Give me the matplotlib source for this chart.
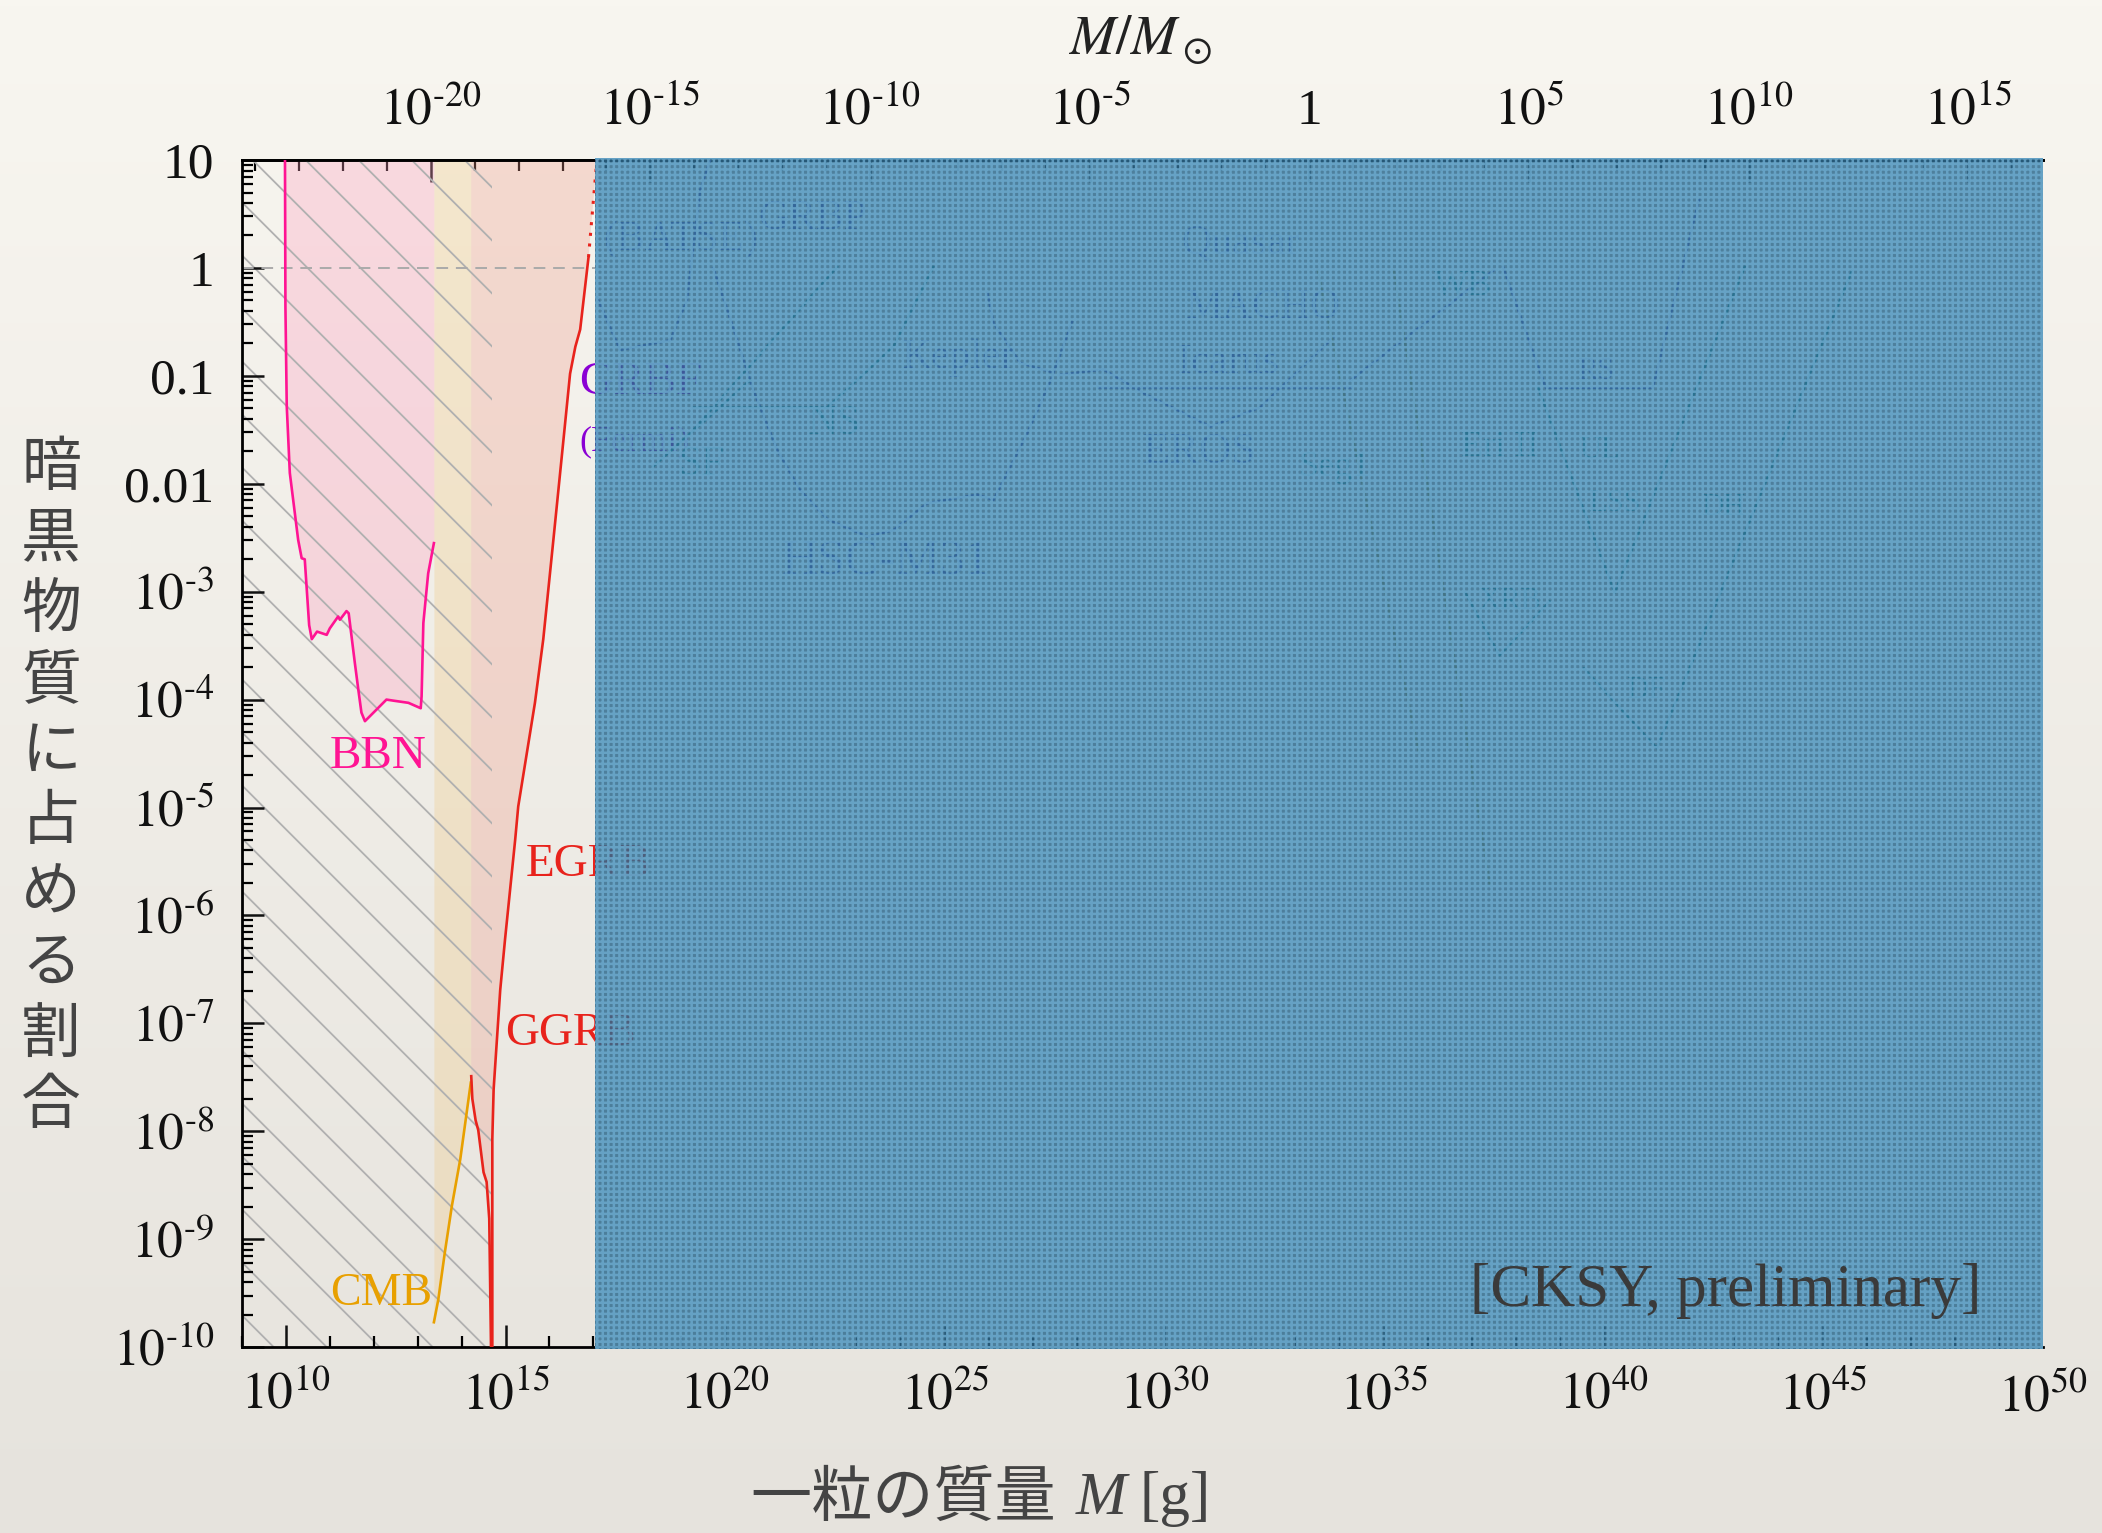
import numpy as np
import matplotlib.pyplot as plt
from matplotlib.patches import Rectangle
from matplotlib.ticker import FixedLocator, FuncFormatter, LogLocator, NullFormatter

plt.rcParams['font.family'] = ['Liberation Serif', 'Noto Sans CJK JP', 'DejaVu Sans']
plt.rcParams['mathtext.fontset'] = 'stix'
plt.rcParams['hatch.linewidth'] = 1.8

MSUN = 1.989e33

# --- visible constraints (log10 M[g], log10 f) ---
bbn_lx = [9.98, 9.99, 10.02, 10.09, 10.28, 10.36, 10.43, 10.53, 10.59, 10.71, 10.93, 11.00,
          11.19, 11.23, 11.38, 11.43, 11.57, 11.65, 11.72, 11.80, 12.07, 12.29, 12.45, 12.79,
          13.07, 13.09, 13.13, 13.24, 13.37]
bbn_ly = [1.0, -0.36, -1.28, -1.90, -2.52, -2.69, -2.70, -3.31, -3.44, -3.37, -3.40, -3.34,
          -3.23, -3.26, -3.18, -3.20, -3.66, -3.91, -4.12, -4.20, -4.09, -4.00, -4.01, -4.03,
          -4.08, -3.97, -3.29, -2.83, -2.55]

cmb_lx = [13.37, 13.47, 13.62, 13.78, 13.97, 14.21]
cmb_ly = [-9.77, -9.56, -9.12, -8.69, -8.26, -7.55]

ggrb_lx = [14.22, 14.245, 14.32, 14.38, 14.50, 14.57, 14.63, 14.67]
ggrb_ly = [-7.49, -7.70, -7.90, -7.99, -8.38, -8.47, -8.81, -10.0]

egrb_lx = [14.70, 14.70, 14.73, 14.79, 14.88, 14.99, 15.22, 15.29, 15.67, 15.86, 16.09,
           16.32, 16.47, 16.59, 16.70, 16.89]
egrb_ly = [-10.0, -8.07, -7.61, -7.24, -6.69, -6.22, -5.30, -4.99, -4.03, -3.44, -2.52,
           -1.59, -0.98, -0.73, -0.57, 0.10]
egrb_dot_lx = [16.89, 17.08]
egrb_dot_ly = [0.10, 1.0]

hatch_end = 14.69
cover_start = 17.04

# --- constraints hidden under the cover ---
hidden_curves = [
    ([19.73, 20.18, 20.64, 21.19, 21.71, 22.33, 23.24, 23.83, 24.60, 25.74, 26.11, 26.88, 27.41, 27.9],
     [0.0, -0.55, -1.13, -1.69, -2.06, -2.33, -2.49, -2.43, -2.18, -2.10, -2.15, -1.53, -1.04, -0.5], '#5b5bd6'),
    ([25.97, 26.11, 26.72, 27.47], [-0.23, -0.51, -0.88, -0.97], '#5b5bd6'),
    ([27.63, 28.61, 29.52, 31.05, 32.19, 33.85], [-0.99, -0.94, -1.16, -1.47, -1.29, -0.64], '#5b5bd6'),
    ([28.48, 34.24], [-1.10, -1.10], '#5b5bd6'),
    ([17.08, 17.61, 18.75, 19.13, 19.43, 19.66], [-0.27, -0.76, -0.67, -0.30, 0.72, 1.0], '#5b5bd6'),
    ([19.27, 22.33], [-1.29, -1.29], '#1f9e9e'),
    ([22.55, 19.28], [0.01, -1.5], '#1f9e9e'),
    ([24.74, 23.83, 22.33], [0.01, -0.73, -1.29], '#1f9e9e'),
    ([18.36, 20.57], [-1.84, -1.04], '#1f9e9e'),
    ([34.24, 37.5], [-1.04, -0.02], '#5b5bd6'),
    ([33.49, 35.8], [-0.02, -4.5], '#b8b060'),
    ([35.22, 37.4], [-0.02, -5.7], '#b8b060'),
    ([38.51, 40.25, 43.21], [-1.11, -3.01, 0.01], '#1f9e9e'),
    ([39.55, 41.21, 45.65], [-3.71, -4.45, -0.03], '#1f9e9e'),
    ([36.85, 37.63, 38.77], [-3.01, -3.59, -3.09], '#1f9e9e'),
    ([37.71, 38.68, 41.12, 42.17], [0.01, -1.11, -1.11, 0.63], '#5b5bd6'),
]
hidden_labels = [
    ('(BATSE)', 18.98, 0.26, '#5b5bd6', 30), ('GRBP', 21.98, 0.46, '#5b5bd6', 30),
    ('Kepler', 25.31, -0.83, '#5b5bd6', 30), ('NS', 22.49, -1.44, '#1f9e9e', 30),
    ('SF', 19.46, -1.82, '#1f9e9e', 30), ('HSC-M31', 23.65, -2.72, '#5b5bd6', 36),
    ('Quasar', 31.73, 0.23, '#5b5bd6', 30), ('MACHO', 32.26, -0.37, '#5b5bd6', 30),
    ('Icarus', 31.46, -0.88, '#5b5bd6', 30), ('EROS', 30.80, -1.71, '#5b5bd6', 32),
    ('Seg1', 33.88, -1.85, '#1f9e9e', 26), ('WB', 36.79, -0.17, '#1f9e9e', 26),
    ('Eri II', 37.63, -1.66, '#1f9e9e', 26), ('RS', 39.81, -0.96, '#5b5bd6', 22),
    ('UL', 39.9, -1.69, '#1f9e9e', 22), ('LSS', 40.25, -2.18, '#1f9e9e', 22),
    ('DH', 42.73, -2.22, '#1f9e9e', 22), ('DF', 40.95, -3.92, '#1f9e9e', 22),
    ('XRB', 37.85, -3.09, '#1f9e9e', 22),
]

xmajor = np.arange(10, 51, 5)
top_major = np.arange(-20, 16, 5)
ylabels = {1: '10', 0: '1', -1: '0.1', -2: '0.01'}


def p(a):
    return 10.0 ** np.asarray(a, dtype=float)


def pow_label(e):
    if e < 0:
        return r'$10^{\text{-}%d}$' % (-e)
    return '$10^{%d}$' % e


fig = plt.figure(figsize=(21.02, 15.33), dpi=100)

# paper-like background
bg = fig.add_axes([0, 0, 1, 1], zorder=-5)
grad = np.linspace(0, 1, 256)[:, None]
top_c = np.array([248, 246, 240]) / 255
bot_c = np.array([230, 227, 221]) / 255
img = top_c[None, None, :] * (1 - grad[..., None]) + bot_c[None, None, :] * grad[..., None]
bg.imshow(img, aspect='auto', extent=[0, 1, 0, 1])
bg.axis('off')

ax = fig.add_axes([0.1151, 0.1213, 0.8568, 0.7743], zorder=1)
ax.set_facecolor('none')
ax.set_xscale('log')
ax.set_yscale('log')
ax.set_xlim(1e9, 1e50)
ax.set_ylim(1e-10, 10)

# filled regions
ax.fill_between(p(bbn_lx), p(bbn_ly), 10, color='#ff9fc0', alpha=0.32, lw=0, zorder=1)
ax.fill_between(p(cmb_lx), p(cmb_ly), 10, color='#f0c880', alpha=0.3, lw=0, zorder=1)
poly_x = np.concatenate([[ggrb_lx[0]], ggrb_lx, egrb_lx, [17.08]])
poly_y = np.concatenate([[1.0], ggrb_ly, egrb_ly, [1.0]])
ax.fill(p(poly_x), p(poly_y), color='#f09a88', alpha=0.3, lw=0, zorder=1)

# diagonal hatching of the excluded low-mass region
clip = Rectangle((1e9, 1e-10), 10 ** hatch_end - 1e9, 10, transform=ax.transData,
                 facecolor='none', edgecolor='none')
ax.add_patch(clip)
W, H = 1801.0, 1187.0
step = 53.0 / W
for x0 in np.arange(0.0054 - 1.0, 0.2, step):
    xx = np.array([x0, x0 + H / W * 1.1])
    yy = 1 - (xx - x0) * W / H
    ln, = ax.plot(xx, yy, transform=ax.transAxes, color='#b0b0b0', lw=1.3, zorder=1.5)
    ln.set_clip_path(clip)

# f = 1 line
ax.plot([1e9, 10 ** cover_start], [1, 1], color='#aaaaaa', lw=1.4, ls=(0, (6, 4)), zorder=2)

# curves
ax.plot(p(bbn_lx[:1] + bbn_lx), p([1.0] + bbn_ly), color='#ff1493', lw=1.9, zorder=3)
ax.plot(p(cmb_lx), p(cmb_ly), color='#e8a000', lw=1.9, zorder=3)
ax.plot(p(ggrb_lx), p(ggrb_ly), color='#e8231c', lw=1.9, zorder=3)
ax.plot(p(egrb_lx), p(egrb_ly), color='#e8231c', lw=1.9, zorder=3)
ax.plot(p(egrb_dot_lx), p(egrb_dot_ly), color='#e8231c', lw=2.2, ls=(0, (1, 2.5)), zorder=3)

# labels
ax.text(p(12.10), p(-4.53), 'BBN', color='#ff1493', fontsize=34, ha='center', va='center', zorder=3)
ax.text(p(15.45), p(-5.53), 'EGRB', color='#e8231c', fontsize=34, ha='left', va='center', zorder=3)
ax.text(p(14.99), p(-7.10), 'GGRB', color='#e8231c', fontsize=34, ha='left', va='center', zorder=3)
ax.text(p(12.17), p(-9.51), 'CMB', color='#e8a000', fontsize=33, ha='center', va='center', zorder=3)
ax.text(p(16.68), p(-1.06), 'GRBF', color='#8a00d4', fontsize=34, ha='left', va='center', zorder=3)
ax.text(p(16.68), p(-1.61), '(Fermi)', color='#8a00d4', fontsize=26, ha='left', va='center', zorder=3)

for lx, ly, c in hidden_curves:
    ax.plot(p(lx), p(ly), color=c, lw=1.8, zorder=3)
for s, lx, ly, c, fs in hidden_labels:
    ax.text(p(lx), p(ly), s, color=c, fontsize=fs, ha='center', va='center', zorder=3)

# cover over the high-mass part
cover = ax.axvspan(10 ** cover_start, 1e50, ymin=-0.002, ymax=1.002, facecolor='#2e6a8e',
                   edgecolor='#6ba9cd', hatch='+++', lw=0, alpha=0.84, zorder=6)
cover.set_clip_on(False)

ax.text(0.9657, 0.0473, '[CKSY, preliminary]', transform=ax.transAxes, fontsize=44,
        color='#3a3a3a', ha='right', va='center', zorder=7)

# axes styling
for sp in ['left', 'bottom', 'top']:
    ax.spines[sp].set_linewidth(2.0)
ax.spines['right'].set_visible(False)

ax.xaxis.set_major_locator(FixedLocator(p(xmajor[:-1])))
ax.xaxis.set_minor_locator(FixedLocator(p(np.arange(9, 50))))
ax.xaxis.set_major_formatter(FuncFormatter(lambda v, _: pow_label(round(np.log10(v)))))
ax.xaxis.set_minor_formatter(NullFormatter())
ax.yaxis.set_major_locator(FixedLocator(p(np.arange(-10, 2))))
ax.yaxis.set_minor_locator(LogLocator(base=10, subs=np.arange(2, 10), numticks=100))
ax.yaxis.set_major_formatter(FuncFormatter(
    lambda v, _: ylabels.get(round(np.log10(v)), pow_label(round(np.log10(v))))))
ax.yaxis.set_minor_formatter(NullFormatter())

ax.tick_params(which='major', direction='in', length=16, width=1.8, labelsize=37,
               colors='#111111', top=False, right=False)
ax.tick_params(which='minor', direction='in', length=8, width=1.6, top=False, right=False)
ax.tick_params(axis='y', which='major', pad=20)
ax.tick_params(axis='x', which='major', pad=18)
# the last label at the right edge (10^50), drawn without a tick
ax.text(1.0, -0.0227, pow_label(xmajor[-1]), transform=ax.transAxes, fontsize=37,
        color='#111111', ha='center', va='top')

sec = ax.secondary_xaxis('top', functions=(lambda m: np.asarray(m) / MSUN,
                                           lambda m: np.asarray(m) * MSUN))
sec.xaxis.set_major_locator(FixedLocator(p(top_major)))
sec.xaxis.set_minor_locator(FixedLocator(p(np.arange(-24, 17))))
sec.xaxis.set_major_formatter(FuncFormatter(
    lambda v, _: '1' if round(np.log10(v)) == 0 else pow_label(round(np.log10(v)))))
sec.xaxis.set_minor_formatter(NullFormatter())
sec.tick_params(which='major', direction='in', length=16, width=1.8, labelsize=37,
                colors='#111111', pad=18)
sec.tick_params(which='minor', direction='in', length=8, width=1.6)
sec.spines['top'].set_linewidth(2.0)

# axis titles
fig.text(1140 / 2102, 1 - 40 / 1533, r'$M/M_\odot$', fontsize=40, ha='center', va='center',
         color='#222222')
fig.text(1056 / 2102, 1 - 1499 / 1533, '一粒の質量', fontsize=44, ha='right', va='center',
         color='#444444', family=['Noto Sans CJK JP'])
fig.text(1076 / 2102, 1 - 1499 / 1533, 'M', fontsize=44, ha='left', va='center',
         color='#444444', style='italic', family=['Liberation Serif'])
fig.text(1140 / 2102, 1 - 1499 / 1533, '[g]', fontsize=44, ha='left', va='center',
         color='#444444', family=['Liberation Serif'])
for yc, ch in zip(np.linspace(469, 1106, 10), '暗黒物質に占める割合'):
    fig.text(51 / 2102, 1 - yc / 1533, ch, fontsize=43, ha='center', va='center',
             color='#444444', family=['Noto Sans CJK JP'])

fig.savefig('out.png', dpi=100)
